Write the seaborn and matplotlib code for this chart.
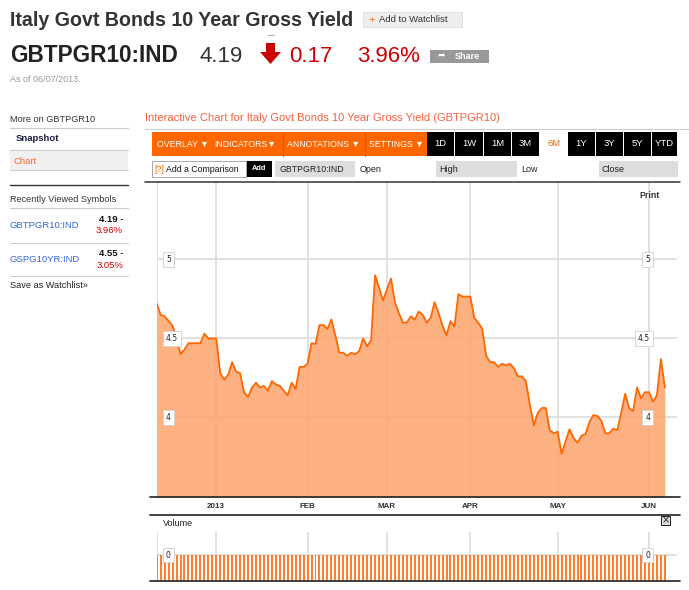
import numpy as np
import pandas as pd
import matplotlib
matplotlib.use("Agg")
import matplotlib.pyplot as plt
import seaborn as sns
from matplotlib.patches import Rectangle, Polygon
from matplotlib.lines import Line2D

# ---------------- data ----------------
start_date = "2012-12-11"
end_date = "2013-06-07"
dates = pd.bdate_range(start_date, end_date)

yield_values = [
    4.72, 4.65, 4.64, 4.61, 4.58, 4.50, 4.40, 4.43, 4.47, 4.47,
    4.47, 4.47, 4.53, 4.50, 4.50, 4.50, 4.28, 4.24, 4.27, 4.35,
    4.29, 4.28, 4.16, 4.13, 4.19, 4.22, 4.19, 4.20, 4.17, 4.23,
    4.21, 4.20, 4.17, 4.14, 4.22, 4.18, 4.32, 4.32, 4.34, 4.47,
    4.465, 4.585, 4.585, 4.56, 4.62, 4.52, 4.41, 4.41, 4.39, 4.41,
    4.40, 4.42, 4.50, 4.45, 4.49, 4.90, 4.82, 4.74, 4.81, 4.88,
    4.73, 4.66, 4.60, 4.60, 4.64, 4.62, 4.67, 4.65, 4.60, 4.63,
    4.73, 4.66, 4.58, 4.52, 4.61, 4.575, 4.78, 4.765, 4.765, 4.765,
    4.63, 4.60, 4.56, 4.39, 4.35, 4.35, 4.32, 4.34, 4.33, 4.34,
    4.31, 4.26, 4.26, 4.23, 4.08, 3.95, 4.03, 4.06, 4.06, 3.92,
    3.90, 3.91, 3.77, 3.85, 3.925, 3.87, 3.84, 3.885, 3.895, 3.97,
    4.015, 4.01, 3.98, 3.90, 3.90, 3.93, 3.92, 4.03, 4.15, 4.06,
    4.04, 4.19, 4.12, 4.16, 4.16, 4.10, 4.14, 4.37, 4.19,
]
volume_bars = [1.0] * len(yield_values)   # every volume bar drawn at the same height

month_labels = ["2013", "FEB", "MAR", "APR", "MAY", "JUN"]
y_ticks = [4, 4.5, 5]
y_tick_labels = ["4", "4.5", "5"]

quote_symbol = "GBTPGR10:IND"
quote_last = "4.19"
quote_change = "0.17"
quote_pct = "3.96%"
recent_symbols = [("GBTPGR10:IND", "4.19 -", "3.96%"), ("GSPG10YR:IND", "4.55 -", "3.05%")]
range_buttons = ["1D", "1W", "1M", "3M", "6M", "1Y", "3Y", "5Y", "YTD"]

# ---------------- setup ----------------
sns.set_style("white")
plt.rcParams["font.family"] = ["Liberation Sans", "DejaVu Sans"]

W, H = 689, 590
fig = plt.figure(figsize=(W / 100, H / 100), dpi=100)
fig.patch.set_facecolor("white")


def fx(x):
    return x / W


def fy(y):
    return 1 - y / H


def text(x, y, s, **kw):
    kw.setdefault("va", "center")
    kw.setdefault("ha", "left")
    return fig.text(fx(x), fy(y), s, **kw)


def rect(x0, y0, x1, y1, **kw):
    r = Rectangle((fx(x0), fy(y1)), (x1 - x0) / W, (y1 - y0) / H,
                  transform=fig.transFigure, **kw)
    fig.add_artist(r)
    return r


def hline(x0, x1, y, **kw):
    fig.add_artist(Line2D([fx(x0), fx(x1)], [fy(y), fy(y)], transform=fig.transFigure, **kw))


def vline(x, y0, y1, **kw):
    fig.add_artist(Line2D([fx(x), fx(x)], [fy(y0), fy(y1)], transform=fig.transFigure, **kw))


# ---------------- page header ----------------
text(10, 20, "Italy Govt Bonds 10 Year Gross Yield", fontsize=14.1, weight="bold", color="#333333")
rect(363, 12, 462, 27, facecolor="#eeeeee", edgecolor="#dddddd", lw=0.6)
text(368, 19.5, "+", fontsize=8, color="#ff6600")
text(379, 19.5, "Add to Watchlist", fontsize=6.8, color="#333333")
hline(268, 274, 35, color="#99c299", lw=0.8)

text(10, 56, quote_symbol, fontsize=16.3, weight="bold", color="#222222")
text(200, 56, quote_last, fontsize=16, color="#333333")
arrow = [(fx(x), fy(y)) for x, y in
         [(266, 43), (275, 43), (275, 52), (281, 52), (270.5, 64), (260, 52), (266, 52)]]
fig.add_artist(Polygon(arrow, closed=True, transform=fig.transFigure, facecolor="#cc0000", edgecolor="none"))
text(289, 56, quote_change, fontsize=16, color="#cc0000")
text(357, 56, quote_pct, fontsize=16, color="#cc0000")
rect(430, 50, 489, 63, facecolor="#999999", edgecolor="none")
text(437, 56.5, "➦", fontsize=6.5, color="white", family=["DejaVu Sans"])
text(455, 56.5, "Share", fontsize=6.5, weight="bold", color="white")
text(10, 79, "As of 06/07/2013.", fontsize=6.5, color="#999999")

# ---------------- sidebar ----------------
text(10, 119, "More on GBTPGR10", fontsize=6.6, color="#333333")
rect(10, 150, 128, 170, facecolor="#f0f0f0", edgecolor="none")
for yy in [128, 150, 170, 208, 243, 276]:
    hline(10, 128, yy, color="#cccccc", lw=0.8)
hline(10, 128, 185, color="#333333", lw=1.0)
text(16, 139, "Snapshot", fontsize=6.8, weight="bold", color="#1a1a40")
text(14, 161, "Chart", fontsize=6.8, color="#ff6633")
text(10, 199, "Recently Viewed Symbols", fontsize=6.6, color="#333333")
for (sym, last, pct), yc in zip(recent_symbols, [225, 259]):
    text(10, yc, sym, fontsize=6.8, color="#3366dd")
    text(123, yc - 6, last, fontsize=6.8, weight="bold", color="#111111", ha="right")
    text(123, yc + 6, pct, fontsize=6.8, color="#cc0000", ha="right")
text(10, 285, "Save as Watchlist»", fontsize=6.6, color="#222222")

# ---------------- chart header / toolbar ----------------
text(145, 118, "Interactive Chart for Italy Govt Bonds 10 Year Gross Yield (GBTPGR10)",
     fontsize=8, color="#f5623c")
hline(145, 689, 128.5, color="#cccccc", lw=0.8)
rect(152, 132, 427, 156, facecolor="#ff6600", edgecolor="none")
vline(283, 132, 156, color="#e05500", lw=0.8)
vline(365, 132, 156, color="#e05500", lw=0.8)
for lab, xx in [("OVERLAY ▼", 157), ("INDICATORS▼", 214), ("ANNOTATIONS ▼", 287), ("SETTINGS ▼", 369)]:
    text(xx, 144, lab, fontsize=6.3, color="white")
btn_x = [427, 455, 484, 512, 540, 568, 596, 624, 652]
btn_w = [27, 28, 27, 27, 28, 27, 27, 27, 25]
for lab, x0, w in zip(range_buttons, btn_x, btn_w):
    if lab == "6M":
        text(x0 + w / 2, 144, lab, fontsize=6.8, color="#ff6600", ha="center")
    else:
        rect(x0, 132, x0 + w, 156, facecolor="black", edgecolor="none")
        text(x0 + w / 2, 144, lab, fontsize=6.8, color="white", ha="center")

rect(152, 161, 246, 177, facecolor="white", edgecolor="#999999", lw=0.6)
text(154, 169, "[?]", fontsize=6.3, color="#ff6600")
text(166, 169, "Add a Comparison", fontsize=6.3, color="#111111")
rect(247, 161, 272, 177, facecolor="black", edgecolor="none")
text(259.5, 169, "Add", fontsize=5.3, weight="bold", color="white", ha="center")
rect(275, 161, 355, 177, facecolor="#dddddd", edgecolor="none")
text(280, 169, "GBTPGR10:IND", fontsize=6.3, color="#222222")
text(360, 169, "Open", fontsize=6.5, color="#222222")
rect(436, 161, 517, 177, facecolor="#dddddd", edgecolor="none")
text(439, 169, "High", fontsize=6.5, color="#222222")
text(521, 169, "Low", fontsize=6.5, color="#222222")
rect(599, 161, 678, 177, facecolor="#dddddd", edgecolor="none")
text(601, 169, "Close", fontsize=6.5, color="#222222")
hline(145, 680, 181.5, color="#333333", lw=1.1)

# ---------------- main price chart ----------------
x_idx = np.arange(len(dates))
month_idx = [i for i in range(1, len(dates)) if dates[i].month != dates[i - 1].month]

px_per_day = 3.97
ax_left, ax_right, ax_top, ax_bottom = 156.7, 677, 182, 497
y_bottom = 3.497
y_top = 5.49

ax = fig.add_axes([fx(ax_left), fy(ax_bottom), (ax_right - ax_left) / W, (ax_bottom - ax_top) / H])
ax.set_xlim(0, (ax_right - ax_left) / px_per_day)
ax.set_ylim(y_bottom, y_top)
for v in y_ticks:
    ax.axhline(v, color="#dedede", lw=1.3, zorder=0.5)
for m in [0] + month_idx:
    ax.axvline(m, color="#dedede", lw=1.3, zorder=0.5)
ax.fill_between(x_idx, yield_values, y_bottom, color="#fda66f", alpha=0.88, lw=0, zorder=1)
sns.lineplot(x=x_idx, y=yield_values, ax=ax, color="#ff6600", lw=1.3, zorder=3)
ax.set_xticks(month_idx)
ax.set_xticklabels(month_labels, fontsize=5.8, weight="bold", color="#333333")
ax.tick_params(axis="x", length=0, pad=4)
ax.set_yticks([])
ax.set_xlabel("")
ax.set_ylabel("")
for s in ax.spines.values():
    s.set_visible(False)

x_lab_left = (166 - ax_left) / px_per_day
x_lab_right = (650 - ax_left) / px_per_day
box = dict(boxstyle="square,pad=0.35", facecolor="white", edgecolor="#cfcfcf", lw=0.6)
for v, lab in zip(y_ticks, y_tick_labels):
    ax.text(x_lab_left, v, lab, fontsize=5.5, ha="left", va="center", color="#222222",
            family=["DejaVu Sans"], bbox=box, zorder=4)
    ax.text(x_lab_right, v, lab, fontsize=5.5, ha="right", va="center", color="#222222",
            family=["DejaVu Sans"], bbox=box, zorder=4)

text(650, 196, "Print", fontsize=6.3, color="#333333", ha="center", weight="bold")
hline(150, 680, 497, color="#222222", lw=1.2)

# ---------------- volume panel ----------------
hline(150, 680, 514.5, color="#222222", lw=1.2)
text(163, 523, "Volume", fontsize=6.5, color="#222222")
rect(661, 515.5, 669.5, 524.5, facecolor="#dddddd", edgecolor="#222222", lw=0.7)
text(665.3, 520, "×", fontsize=7, color="#222222", ha="center", family=["DejaVu Sans"])

vol_top, vol_bottom = 532, 581
ax2 = fig.add_axes([fx(ax_left), fy(vol_bottom), (ax_right - ax_left) / W, (vol_bottom - vol_top) / H])
ax2.set_xlim(0, (ax_right - ax_left) / px_per_day)
ax2.set_ylim(0, (vol_bottom - vol_top) / (vol_bottom - 555))
for m in [0] + month_idx:
    ax2.axvline(m, color="#dedede", lw=1.3, zorder=0.5)
ax2.axhline(1.0, color="#dedede", lw=1.3, zorder=0.5)
ax2.bar(x_idx, volume_bars, width=0.5, color="#ff7f2a", edgecolor="none",
        antialiased=False, zorder=2)
ax2.set_xticks([])
ax2.set_yticks([])
for s in ax2.spines.values():
    s.set_visible(False)
for xv, ha in [(x_lab_left, "left"), (x_lab_right, "right")]:
    ax2.text(xv, 1.0, "0", fontsize=5.5, ha=ha, va="center", color="#222222",
             family=["DejaVu Sans"], bbox=box, zorder=4)
hline(150, 680, 581, color="#222222", lw=1.2)

fig.savefig("out.png", dpi=100, facecolor="white")
